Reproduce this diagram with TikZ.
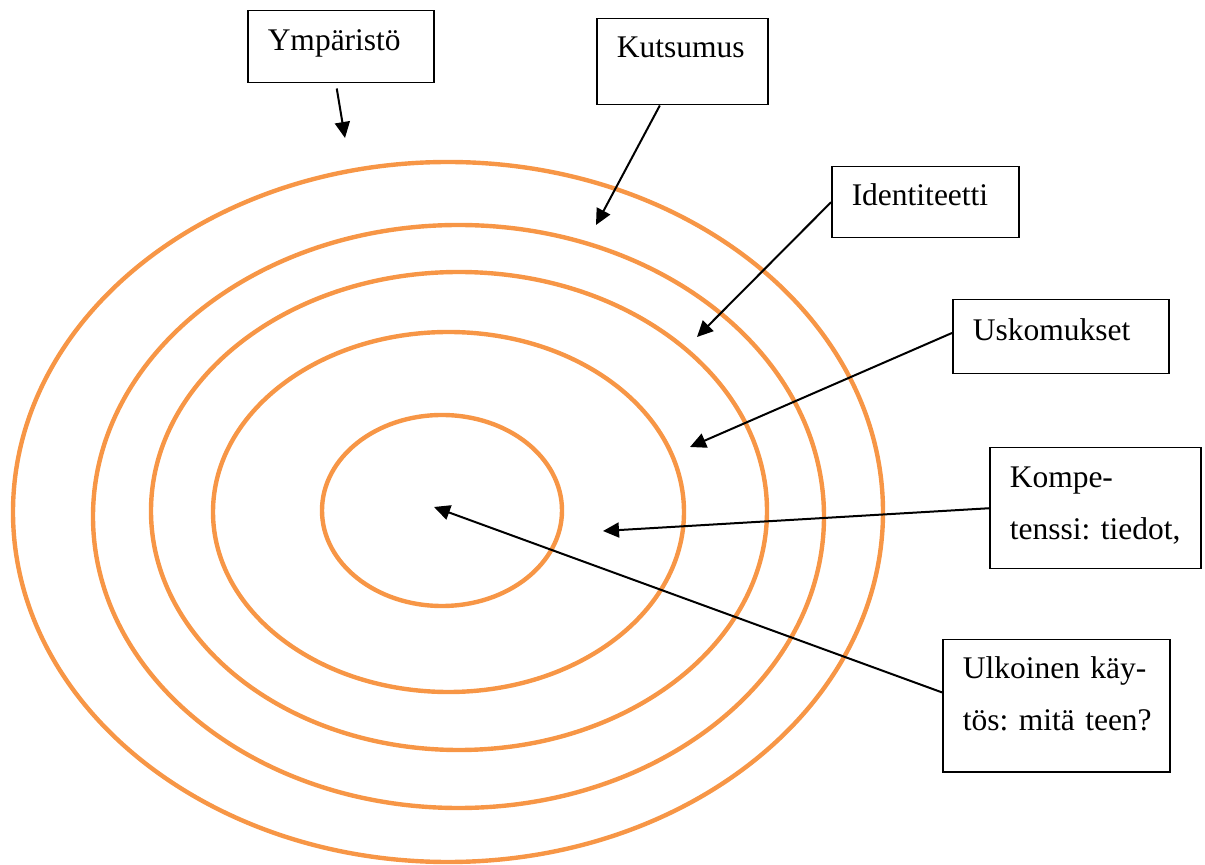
\documentclass[tikz,border=0pt]{standalone}
\usepackage{fontspec}
\setmainfont{Liberation Serif}
\usetikzlibrary{arrows.meta,calc}
\definecolor{RingOrange}{HTML}{F79646}

\begin{document}
\begin{tikzpicture}[x=.5pt,y=-.5pt,
    ring/.style={draw=RingOrange,line width=2.2pt},
    box/.style={draw,line width=.75pt,anchor=north west,inner xsep=10pt,inner ysep=0pt,align=left,font=\fontsize{15.75}{26}\selectfont\frenchspacing},
    arr/.style={-{Triangle[length=8pt,width=7.5pt]},line width=1pt}]
  \useasboundingbox (0,0) rectangle (1205,865);
  % rings, outer to inner
  \draw[ring] (448,512) ellipse [x radius=217.5pt,y radius=175pt];
  \draw[ring] (458.5,516.5) ellipse [x radius=182.75pt,y radius=145.75pt];
  \draw[ring] (459,511) ellipse [x radius=154pt,y radius=119.5pt];
  \draw[ring] (448.5,512) ellipse [x radius=117.75pt,y radius=90pt];
  \draw[ring] (442,510.5) ellipse [x radius=60pt,y radius=47.75pt];
  % labels
  \node[box,text width=73pt,text height=20pt,text depth=16pt] (env) at (247,10) {Ympäristö};
  \node[box,text width=65.5pt,text height=19.5pt,text depth=23.5pt] (kut) at (596,18) {Kutsumus};
  \node[box,text width=73.5pt,text height=19.5pt,text depth=16pt] (ide) at (831,166) {Identiteetti};
  \node[box,text width=88pt,text height=20.5pt,text depth=16.5pt] (usk) at (952,299) {Uskomukset};
  \node[box,text width=85.5pt,text height=20pt,text depth=40.5pt] (komp) at (989,447) {Kompe-\\\mbox{tenssi: tiedot,}};
  \node[box,text width=93.5pt,text height=19.5pt,text depth=46.5pt] (ulk) at (942,639) {\makebox[91.5pt][s]{Ulkoinen käy-}\\\mbox{tös: mitä teen?}};
  % arrow ends
  \coordinate (envtip) at (345,138);
  \coordinate (kuttip) at (596,225);
  \coordinate (idetip) at (697,337);
  \coordinate (usktip) at (690,447);
  \coordinate (komptip) at (603,531);
  \coordinate (ulktip) at (434,507);
  \draw[arr] ($(env.south)+(-2pt,-2.5pt)$) -- (envtip);
  \draw[arr] ($(kut.south west)!.37!(kut.south east)$) -- (kuttip);
  \draw[arr] (ide.west) -- (idetip);
  \draw[arr] ($(usk.north west)!.45!(usk.south west)$) -- (usktip);
  \draw[arr] (komp.west) -- (komptip);
  \draw[arr] ($(ulk.north west)!.4!(ulk.south west)$) -- (ulktip);
\end{tikzpicture}
\end{document}
